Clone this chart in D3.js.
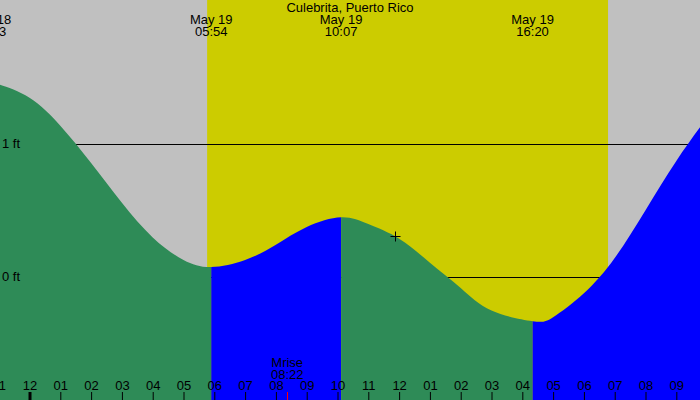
<!DOCTYPE html>
<html lang="en">
<head>
    <meta charset="UTF-8">
    <title>Culebrita tides</title>
    <style>
        html, body {
            margin: 0;
            padding: 0;
            background: #c0c0c0;
        }
        svg text {
            font-family: "Liberation Sans", Arial, sans-serif;
            font-size: 13px;
            fill: black;
        }
    </style>
</head>
<body>
<svg id="chart" width="700" height="400"></svg>
<script src="https://cdnjs.cloudflare.com/ajax/libs/d3/7.8.5/d3.min.js"></script>
<script>
    "use strict"

    // hours counted from midnight of May 19 (negative = May 18)
    const title = "Culebrita, Puerto Rico";
    const tideHours  = [-1.28, -1, 0, 1, 2, 3, 4, 5, 5.9, 7, 8, 9, 10.12, 11, 12, 13, 14, 15, 16.33, 17, 18, 19, 20, 21, 22];
    const tideLevels = [1.46, 1.45, 1.35, 1.14, 0.86, 0.56, 0.30, 0.13, 0.077, 0.13, 0.245, 0.378, 0.451, 0.40, 0.29, 0.11, -0.08, -0.25, -0.33, -0.30, -0.12, 0.145, 0.505, 0.875, 1.20];

    const extremeDays  = ["May 18", "May 19", "May 19", "May 19"];
    const extremeTimes = ["22:43", "05:54", "10:07", "16:20"];
    const extremeTypes = ["high", "low", "high", "low"];

    const sunrise = "05:46";
    const sunset = "18:47";
    const moonrise = "08:22";

    const levelTicks = [0, 1];
    const hourTicks = d3.range(-1, 22);
    const marker = [11.87, 0.31];

    const toHours = (t, day) => {
        const [hh, mm] = t.split(":").map(Number);
        return hh + mm / 60 - (day === "May 18" ? 24 : 0);
    };

    const width = 700, height = 400;
    const svg = d3.select("#chart");

    const x = d3.scaleLinear().domain([-0.958, 21.769]).range([0, width]);
    const y = d3.scaleLinear().domain([0, 1]).range([277.3, 144.3]);

    const tide = tideHours.map((h, i) => ({h: h, v: tideLevels[i]}));
    const extremes = extremeTimes.map((t, i) => ({
        h: toHours(t, extremeDays[i]), day: extremeDays[i], time: t, type: extremeTypes[i]
    }));

    /* background + daylight */
    svg.append("rect").attr("width", width).attr("height", height).attr("fill", "#c0c0c0");
    svg.append("rect")
        .attr("x", x(toHours(sunrise)))
        .attr("y", 0)
        .attr("width", x(toHours(sunset)) - x(toHours(sunrise)))
        .attr("height", height)
        .attr("fill", "#cccc00");

    /* level lines, behind the water */
    svg.selectAll("line.level")
        .data(levelTicks)
        .enter()
        .append("line")
        .attr("class", "level")
        .attr("x1", 0)
        .attr("x2", width)
        .attr("y1", d => Math.round(y(d)) + 0.5)
        .attr("y2", d => Math.round(y(d)) + 0.5)
        .attr("stroke", "black")
        .attr("stroke-width", 1);

    /* water area, coloured by rising / falling */
    const area = d3.area()
        .x(d => x(d.h))
        .y0(height)
        .y1(d => y(d.v))
        .curve(d3.curveNatural);

    const defs = svg.append("defs");
    extremes.forEach((e, i) => {
        const start = x(e.h);
        const end = i + 1 < extremes.length ? x(extremes[i + 1].h) : width + 20;
        defs.append("clipPath")
            .attr("id", "seg" + i)
            .append("rect")
            .attr("x", start)
            .attr("y", 0)
            .attr("width", end - start)
            .attr("height", height);

        svg.append("path")
            .datum(tide)
            .attr("d", area)
            .attr("clip-path", "url(#seg" + i + ")")
            .attr("fill", e.type === "low" ? "#0000ff" : "#2e8b57");
    });

    /* level labels */
    svg.selectAll("text.level")
        .data(levelTicks)
        .enter()
        .append("text")
        .attr("x", 2)
        .attr("y", d => y(d) + 4)
        .text(d => d + " ft");

    /* title and extreme labels */
    svg.append("text")
        .attr("x", width / 2)
        .attr("y", 12)
        .attr("text-anchor", "middle")
        .text(title);

    const lab = svg.selectAll("g.extreme")
        .data(extremes)
        .enter()
        .append("g")
        .attr("transform", d => "translate(" + x(d.h) + ",0)");
    lab.append("text").attr("y", 24).attr("text-anchor", "middle").text(d => d.day);
    lab.append("text").attr("y", 36).attr("text-anchor", "middle").text(d => d.time);

    /* current position marker */
    const mx = Math.round(x(marker[0])) + 0.5, my = Math.round(y(marker[1])) + 0.5;
    svg.append("path")
        .attr("d", "M" + (mx - 5) + "," + my + "H" + (mx + 5) + "M" + mx + "," + (my - 5) + "V" + (my + 5))
        .attr("stroke", "black")
        .attr("stroke-width", 1);

    /* moonrise */
    const mr = toHours(moonrise);
    svg.append("text").attr("x", x(mr)).attr("y", 366.5).attr("text-anchor", "middle").text("Mrise");
    svg.append("text").attr("x", x(mr)).attr("y", 378.5).attr("text-anchor", "middle").text(moonrise);

    /* hour axis */
    const axis = d3.axisTop(x)
        .tickValues(hourTicks)
        .tickSize(8)
        .tickPadding(2)
        .tickFormat(h => d3.format("02")(((h % 12) + 12) % 12 || 12));

    const gAxis = svg.append("g")
        .attr("transform", "translate(0," + height + ")")
        .call(axis);
    gAxis.select(".domain").remove();
    gAxis.selectAll("text")
        .attr("fill", "black")
        .style("font-family", "'Liberation Sans', Arial, sans-serif")
        .style("font-size", "13px");
    gAxis.selectAll("line")
        .attr("stroke", "black")
        .attr("stroke-width", d => d === 0 ? 3 : 1);

    svg.append("line")
        .attr("x1", Math.round(x(mr)) + 0.5)
        .attr("x2", Math.round(x(mr)) + 0.5)
        .attr("y1", height - 8)
        .attr("y2", height)
        .attr("stroke", "red")
        .attr("stroke-width", 1);
</script>
</body>
</html>
